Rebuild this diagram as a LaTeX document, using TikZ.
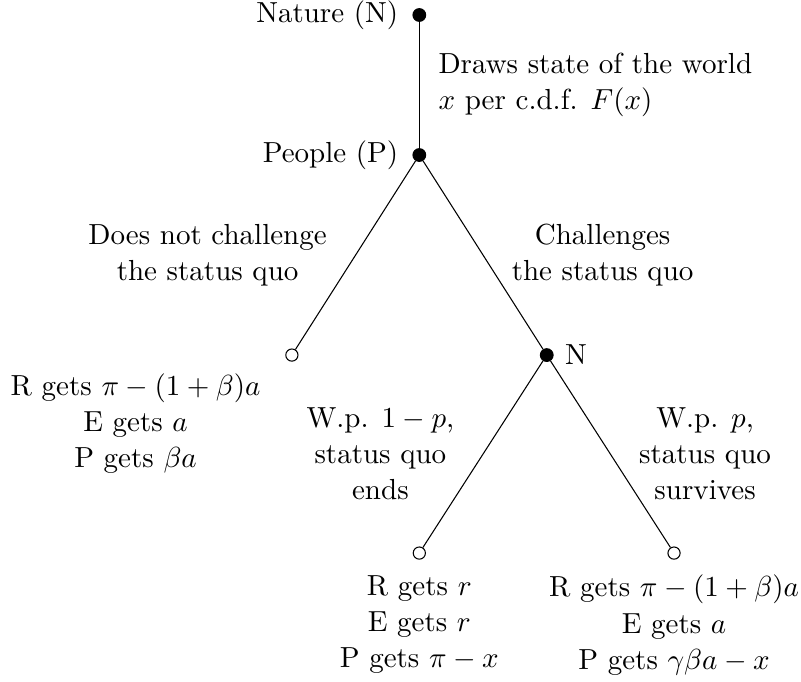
\documentclass[11pt,tikz,border=0pt]{standalone}
\usetikzlibrary{positioning}
\begin{document}
\begin{tikzpicture}[
    decision/.style={circle,draw,fill,inner sep=0pt,minimum size=4.8pt},
    terminal/.style={circle,draw,fill=white,inner sep=0pt,minimum size=4.6pt},
    payoff/.style={align=center},
    branch/.style={midway,align=center},
    label distance=1.5pt]
    \useasboundingbox (-5.561,-6.976) rectangle (5.062,2.056);

    % Nodos de decisión, de azar y terminales.
    \node[decision,label=left:Nature (N)] (nature) at (0,1.857) {};
    \node[decision,label=left:People (P)] (people) at (0,0) {};
    \node[terminal] (quiet) at (-1.69,-2.653) {};
    \node[decision,label={[label distance=0.5pt]right:N}] (chance) at (1.69,-2.653) {};
    \node[terminal] (ends) at (0,-5.279) {};
    \node[terminal] (lasts) at (3.378,-5.279) {};

    % Ramas del árbol.
    \draw (nature) -- node[midway,right=3.4pt,align=left] (draw)
        {Draws state of the world\\ $x$ per c.d.f. $F(x)$} (people);
    \draw (people) -- node[branch,left=7pt] (nochal)
        {Does not challenge\\ the status quo} (quiet);
    \draw (people) -- node[branch,right=7pt] (chal)
        {Challenges\\ the status quo} (chance);
    \draw (chance) -- node[branch,left=7pt] (fall)
        {W.p. $1-p$,\\ status quo\\ ends} (ends);
    \draw (chance) -- node[branch,right=7pt] (stay)
        {W.p. $p$,\\ status quo\\ survives} (lasts);

    % Pagos.
    \node[payoff,below left=0.05cm and 0.22cm of quiet] (payquiet)
        {R gets $\pi-(1+\beta)a$\\ E gets $a$\\ P gets $\beta a$};
    \node[payoff,below=2pt of ends] (payends)
        {R gets $r$\\ E gets $r$\\ P gets $\pi-x$};
    \node[payoff,below=2pt of lasts] (paylasts)
        {R gets $\pi-(1+\beta)a$\\ E gets $a$\\ P gets $\gamma\beta a-x$};
\end{tikzpicture}
\end{document}
